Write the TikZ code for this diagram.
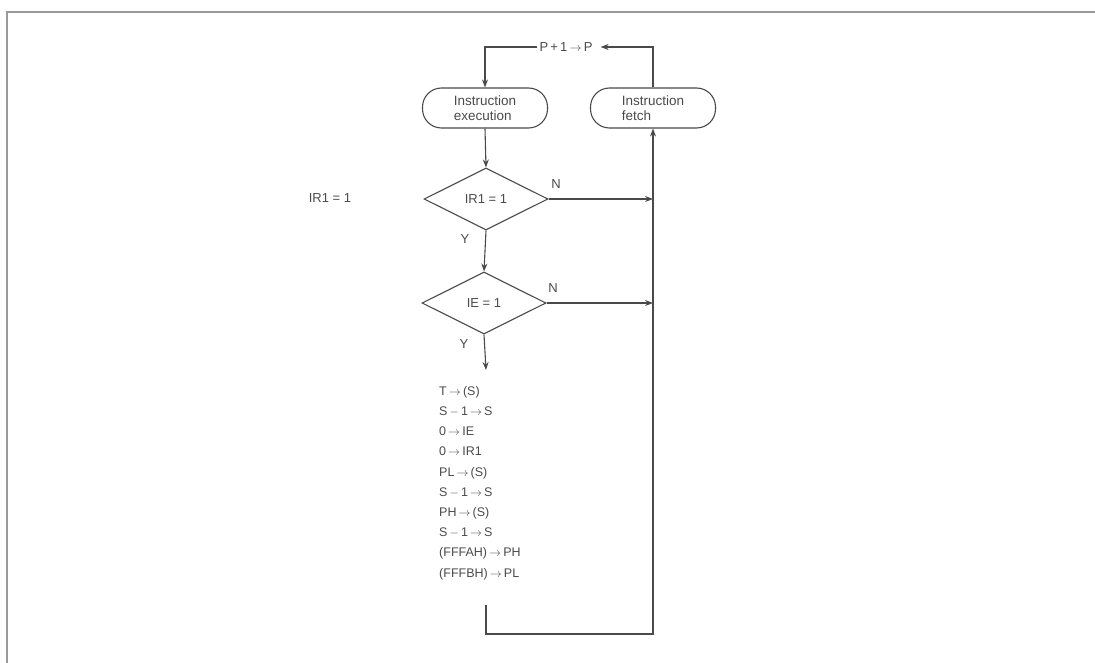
\documentclass[tikz,border=0pt]{standalone}
\usepackage{fontspec}
\setmainfont{Liberation Sans}
\usetikzlibrary{shapes.geometric,arrows.meta}
\definecolor{ink}{HTML}{4A4A4A}
\newcommand{\rar}{\,$\longrightarrow$\,}
\newcommand{\srar}{\,$\rightarrow$\,}
\tikzset{
  line/.style={draw=ink,line width=1.1pt},
  arr/.style={line,-{Stealth[length=8pt,width=6pt]}},
  term/.style={draw=ink,line width=1.1pt,rectangle,rounded corners=19pt,minimum width=125pt,minimum height=40pt,align=left,text=ink,font=\fontsize{13.5}{15}\selectfont},
  dec/.style={draw=ink,line width=1.1pt,diamond,minimum width=124pt,minimum height=62pt,inner sep=0pt,text=ink,font=\fontsize{13}{15}\selectfont},
  lbl/.style={text=ink,font=\fontsize{13}{15}\selectfont,inner sep=2pt}
}
\begin{document}
\begin{tikzpicture}[x=1pt,y=-1pt]
\useasboundingbox (0,0) rectangle (1095,663);
% frame
\draw[draw=gray!80,line width=1.2pt] (7,663) -- (7,12) -- (1095,12);
% nodes
\node[lbl] (pp) at (566,47) {P\,+\,1\srar P};
\node[term] (exec) at (485,108) {Instruction\\execution};
\node[term] (fetch) at (653,108) {Instruction\\fetch\phantom{tion}};
\node[dec] (d1) at (486,199) {IR1 = 1};
\node[dec] (d2) at (484,303) {IE = 1};
\node[lbl] (side) at (330,198) {IR1 = 1};
\node[lbl] (n1) at (556,184) {N};
\node[lbl] (n2) at (553,288) {N};
\node[lbl] (y1) at (465,239) {Y};
\node[lbl] (y2) at (464,344) {Y};
\node[lbl,anchor=north west,align=left,font=\fontsize{12.5}{20.2}\selectfont] (list) at (437,384)
 {T\srar(S)\\S\,$-$\,1\srar S\\0\srar IE\\0\srar IR1\\PL\srar(S)\\S\,$-$\,1\srar S\\PH\srar(S)\\S\,$-$\,1\srar S\\(FFFAH)\srar PH\\(FFFBH)\srar PL};
\coordinate (y2end) at (486,370);
\coordinate (lb) at (486,605);
\coordinate (lc) at (486,634);
% connectors
\draw[arr] (pp.west) -| (exec.north);
\draw[arr] (fetch.north) |- ([xshift=6pt]pp.east);
\draw[arr] (exec.south) -- (d1.north);
\draw[arr] (d1.south) -- (d2.north);
\draw[arr] (d2.south) -- (y2end);
\draw[arr] (d1.east) -- (d1.east -| fetch.south);
\draw[arr] (d2.east) -- (d2.east -| fetch.south);
\draw[arr] (lb) -- (lc) -| (fetch.south);
\end{tikzpicture}
\end{document}
